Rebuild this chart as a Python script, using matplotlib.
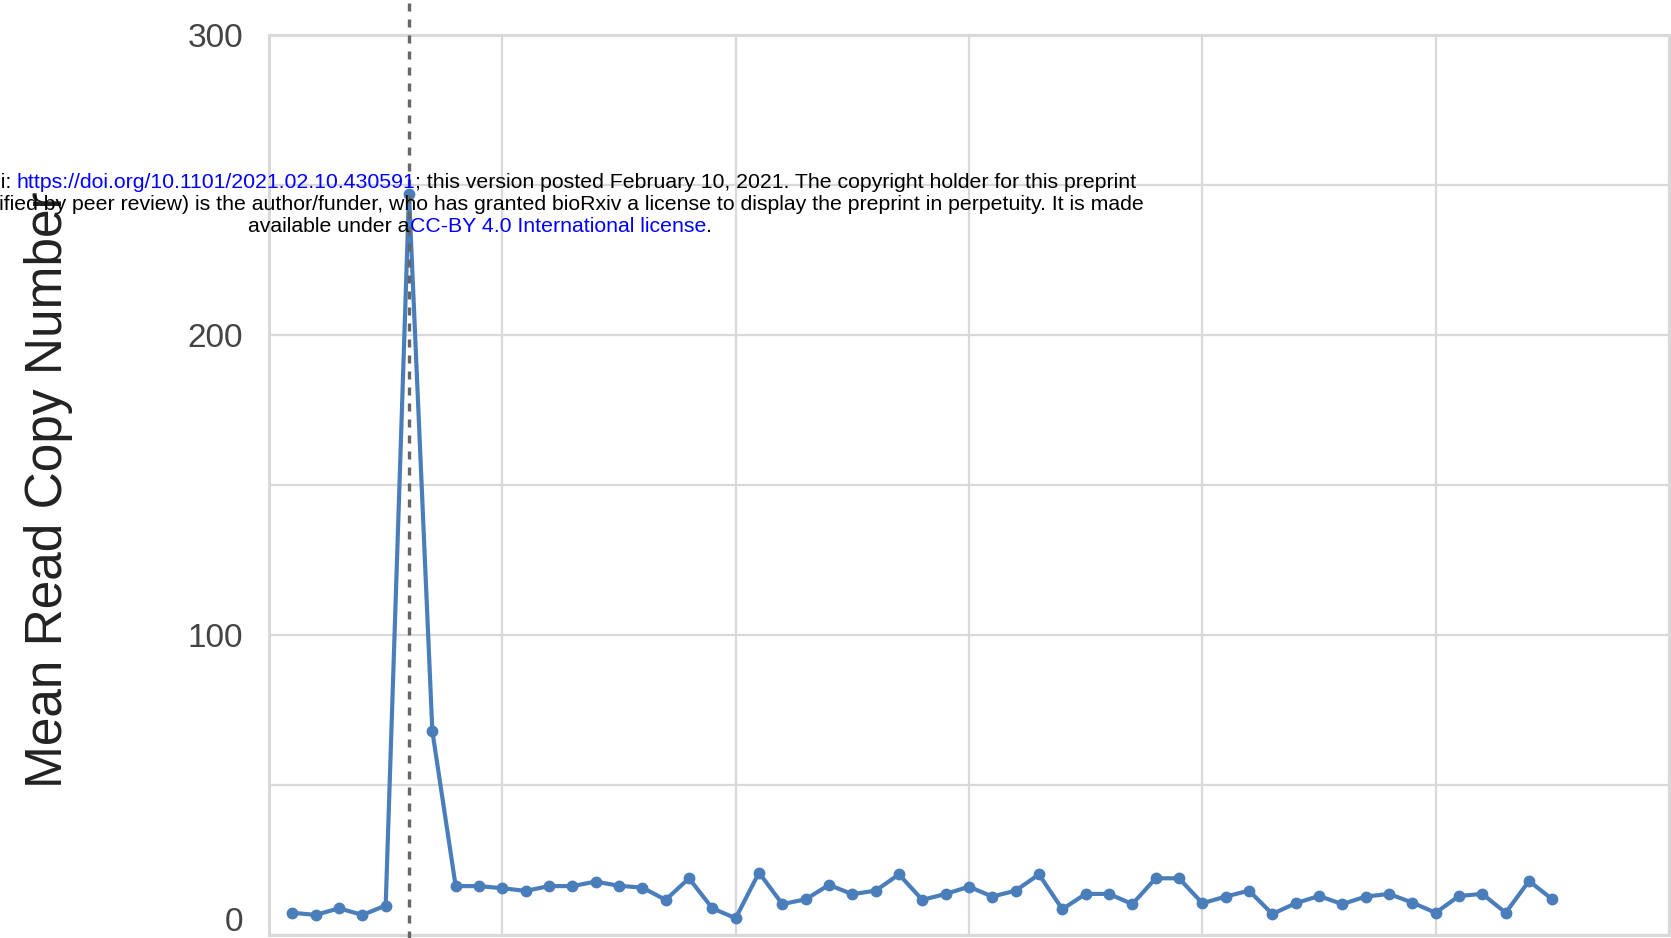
import matplotlib
matplotlib.use('Agg')
import matplotlib.pyplot as plt
import matplotlib.transforms as mtransforms
from matplotlib import font_manager
from matplotlib.ticker import MultipleLocator, NullFormatter

# sample index (1-based) and mean read copy number
samples = list(range(1, 56))
copy_number = [7.4, 6.7, 8.9, 6.7, 9.8, 247.0, 68.0, 16.3, 16.3, 15.6,
               14.7, 16.3, 16.3, 17.8, 16.4, 15.8, 11.7, 18.9, 8.9, 5.6,
               20.8, 10.3, 11.9, 16.7, 13.6, 14.8, 20.2, 11.7, 13.7, 16.1,
               12.8, 14.8, 20.2, 8.6, 13.7, 13.7, 10.3, 18.9, 18.9, 10.6,
               12.8, 14.8, 7.0, 10.6, 13.0, 10.3, 12.8, 13.7, 10.8, 7.4,
               13.0, 13.7, 7.4, 18.0, 11.9]
marker_sample = 6
y_ticks = [0, 100, 200, 300]
y_label = 'Mean Read Copy Number'

header_line1 = ['bioRxiv preprint doi:',
                'https://doi.org/10.1101/2021.02.10.430591',
                '; this version posted February 10, 2021. The copyright holder for this preprint']
header_line2 = '(which was not certified by peer review) is the author/funder, who has granted bioRxiv a license to display the preprint in perpetuity. It is made'
header_line3 = ['available under a', 'CC-BY 4.0 International license', '.']

W, H, DPI = 1671, 938, 100
BLUE = '#4a7ebb'
GRID = '#d9d9d9'
LINK = '#0000ff'


def has_font(name):
    try:
        font_manager.findfont(font_manager.FontProperties(family=name),
                              fallback_to_default=False)
        return True
    except Exception:
        return False


fig = plt.figure(figsize=(W / DPI, H / DPI), dpi=DPI)
fig.patch.set_facecolor('white')
ax = fig.add_axes([269 / W, 3 / H, 1400 / W, 900 / H])

ax.plot(samples, copy_number, color=BLUE, linewidth=3.0, marker='o',
        markersize=7.5, zorder=3)
ax.axvline(marker_sample, ymin=-0.02, ymax=1.06, clip_on=False,
           color='#666666', linewidth=2.4, dashes=(2.4, 2.4), zorder=4)

ax.set_xlim(0, 60)
ax.set_ylim(0, 300)
ax.xaxis.set_major_locator(MultipleLocator(10))
ax.xaxis.set_major_formatter(NullFormatter())
ax.set_yticks(y_ticks)
ax.yaxis.set_minor_locator(MultipleLocator(50))
ax.grid(True, which='both', color=GRID, linewidth=1.6)
ax.set_axisbelow(True)
ax.tick_params(which='both', length=0)
ax.tick_params(axis='y', pad=18.5, labelsize=24, labelcolor='#444444')
for lab in ax.get_yticklabels():
    lab.set_family('Liberation Sans')
for sp in ax.spines.values():
    sp.set_color(GRID)
    sp.set_linewidth(2.2)

# the "0" label sits a little above the baseline in the original
t0 = ax.yaxis.get_major_ticks()[0]
t0.label1.set_va('bottom')
t0.label1.set_transform(t0.label1.get_transform() +
                        mtransforms.ScaledTranslation(0, -0.03, fig.dpi_scale_trans))

if has_font('Liberation Sans Narrow'):
    lab_family, lab_size = 'Liberation Sans Narrow', 44
else:
    lab_family, lab_size = 'Liberation Sans', 37
ax.set_ylabel(y_label, fontsize=lab_size, family=lab_family, color='#222222')
ax.yaxis.label.set_va('baseline')
ax.yaxis.set_label_coords((62 - 269) / 1400, (935 - 490) / 900)

# bioRxiv watermark header, mixed colours
hdr = dict(fontsize=15.3, family='Liberation Sans', va='baseline')
renderer = fig.canvas.get_renderer()


def text_width(s):
    t = fig.text(0, 0, s, **hdr)
    w = t.get_window_extent(renderer).width
    t.remove()
    return w


cx = 480
# line 1
full1 = header_line1[0] + ' ' + header_line1[1] + header_line1[2]
x0 = cx - text_width(full1) / 2
y1 = 1 - 188 / H
fig.text(x0 / W, y1, header_line1[0], color='black', ha='left', **hdr)
x_url_end = x0 + text_width(header_line1[0] + ' ' + header_line1[1])
fig.text(x_url_end / W, y1, header_line1[1], color=LINK, ha='right', **hdr)
fig.text(x_url_end / W, y1, header_line1[2], color='black', ha='left', **hdr)
# line 2
fig.text(cx / W, 1 - 210 / H, header_line2, color='black', ha='center', **hdr)
# line 3
full3 = ''.join(header_line3)
x0 = cx - text_width(full3) / 2
y3 = 1 - 231.7 / H
fig.text(x0 / W, y3, header_line3[0], color='black', ha='left', **hdr)
x_lic_end = x0 + text_width(header_line3[0] + header_line3[1])
fig.text(x_lic_end / W, y3, header_line3[1], color=LINK, ha='right', **hdr)
fig.text(x_lic_end / W, y3, header_line3[2], color='black', ha='left', **hdr)

fig.savefig('out.png', dpi=DPI, facecolor='white')
